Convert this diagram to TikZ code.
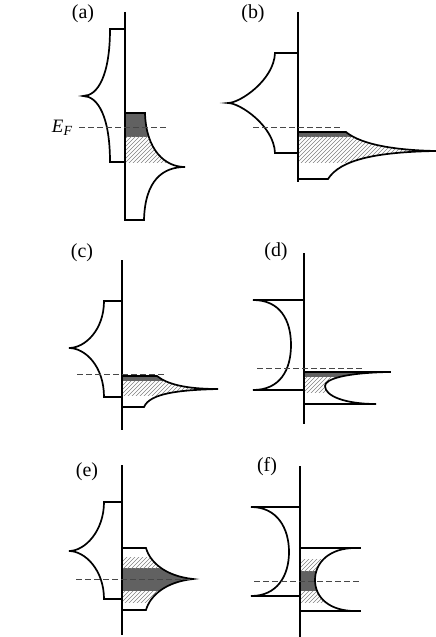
\documentclass[tikz,border=0pt]{standalone}
\usepackage{fontspec}
\setmainfont{Liberation Serif}
\tikzset{
  ln/.style={line width=1.7bp, line join=miter},
  axisln/.style={line width=1.7bp},
  efline/.style={dash pattern=on 5.5bp off 3.5bp, line width=0.9bp, black!72},
  darkfill/.style={fill=black!62},
  hatchln/.style={black!50, line width=0.55bp},
  lab/.style={font=\fontsize{20}{22}\selectfont, inner sep=0pt},
}
% panel (a)
\newcommand\pAL{(125,29) -- (110,29) .. controls (110,75) and (98,96) .. (83,96) .. controls (98,96) and (110,117) .. (110,162) -- (125,162)}
\newcommand\pAR{(125,113) -- (145,113) .. controls (146,150) and (165,167) .. (185,167) .. controls (163,167) and (145,180) .. (144,220) -- (125,220) -- cycle}
% panel (b)
\newcommand\pBL{(298,53) -- (275,53) .. controls (274,80) and (240,103) .. (228,103) .. controls (240,103) and (274,126) .. (275,153) -- (298,153)}
\newcommand\pBR{(298,132) -- (346,132) .. controls (358,142) and (385,150) .. (436,151) .. controls (375,152) and (340,160) .. (328,179) -- (298,179) -- cycle}
% panel (c)
\newcommand\pCL{(122,301) -- (104,301) .. controls (104,330) and (85,348) .. (69,348) .. controls (85,348) and (104,366) .. (104,397) -- (122,397)}
\newcommand\pCR{(122,376) -- (157,376) .. controls (167,384) and (185,389) .. (218,389) .. controls (180,390) and (150,393) .. (144,407) -- (122,407) -- cycle}
% panel (d)
\newcommand\pDL{(304,300) -- (253,300) .. controls (280,300) and (291,320) .. (291,345) .. controls (291,370) and (280,390) .. (253,390) -- (304,390)}
\newcommand\pDR{(304,372) -- (388,372) .. controls (345,373) and (325,379) .. (325,386) .. controls (325,396) and (345,404) .. (376,404) -- (304,404) -- cycle}
% panel (e)
\newcommand\pEL{(122,502) -- (104,502) .. controls (104,531) and (85,551) .. (69,551) .. controls (85,551) and (104,570) .. (104,599) -- (122,599)}
\newcommand\pER{(122,548) -- (146,548) .. controls (150,562) and (165,576) .. (193,579) .. controls (165,582) and (150,596) .. (146,610) -- (122,610) -- cycle}
% panel (f)
\newcommand\pFL{(300,507) -- (251,507) .. controls (277,507) and (289,528) .. (289,552) .. controls (289,576) and (277,596) .. (251,596) -- (300,596)}
\newcommand\pFR{(300,548) -- (355,548) .. controls (330,548) and (315,562) .. (315,580) .. controls (315,598) and (330,611) .. (355,611) -- (300,611) -- cycle}
\newcommand\darkband[3]{\begin{scope}\clip #1; \fill[darkfill] (0,#2) rectangle (436,#3);\end{scope}}
\newcommand\hatchband[3]{\begin{scope}\clip #1; \clip (0,#2) rectangle (436,#3);
  \foreach \k in {-640,-636,...,436} {\draw[hatchln] (\k,640) -- ++(640,-640);}\end{scope}}
\begin{document}
\begin{tikzpicture}[x=1bp,y=-1bp]
\useasboundingbox (0,0) rectangle (436,637);
% fills
\darkband{\pAR}{113}{137}
\hatchband{\pAR}{137}{163}
\darkband{\pBR}{132}{137}
\hatchband{\pBR}{137}{163}
\darkband{\pCR}{376}{381}
\hatchband{\pCR}{381}{395}
\darkband{\pDR}{372}{377}
\hatchband{\pDR}{377}{392}
\darkband{\pER}{568}{591}
\hatchband{\pER}{557}{568}
\hatchband{\pER}{591}{602}
\darkband{\pFR}{571}{591}
\hatchband{\pFR}{559}{571}
\hatchband{\pFR}{591}{602}
% outlines
\draw[ln] \pAL; \draw[ln] \pAR;
\draw[ln] \pBL; \draw[ln] \pBR;
\draw[ln] \pCL; \draw[ln] \pCR;
\draw[ln] \pDL; \draw[ln] \pDR;
\draw[ln] (304,372) -- (391,372);
\draw[ln] \pEL; \draw[ln] \pER;
\draw[ln] \pFL; \draw[ln] \pFR;
\draw[ln] (300,548) -- (361,548);
\draw[ln] (300,611) -- (361,611);
% axes
\coordinate (a1) at (125,12); \coordinate (a2) at (125,220);
\coordinate (b1) at (298,12); \coordinate (b2) at (298,182);
\coordinate (c1) at (122,260); \coordinate (c2) at (122,430);
\coordinate (d1) at (304,253); \coordinate (d2) at (304,424);
\coordinate (e1) at (122,465); \coordinate (e2) at (122,635);
\coordinate (f1) at (300,466); \coordinate (f2) at (300,637);
\draw[axisln] (a1) -- (a2);
\draw[axisln] (b1) -- (b2);
\draw[axisln] (c1) -- (c2);
\draw[axisln] (d1) -- (d2);
\draw[axisln] (e1) -- (e2);
\draw[axisln] (f1) -- (f2);
% Fermi levels
\coordinate (ea1) at (79,127); \coordinate (ea2) at (168,127);
\coordinate (eb1) at (253,127); \coordinate (eb2) at (341,127);
\coordinate (ec1) at (77,374); \coordinate (ec2) at (166,374);
\coordinate (ed1) at (257,368); \coordinate (ed2) at (365,368);
\coordinate (ee1) at (76,579); \coordinate (ee2) at (190,579);
\coordinate (ef1) at (254,581); \coordinate (ef2) at (361,581);
\draw[efline] (ea1) -- (ea2);
\draw[efline] (eb1) -- (eb2);
\draw[efline] (ec1) -- (ec2);
\draw[efline] (ed1) -- (ed2);
\draw[efline] (ee1) -- (ee2);
\draw[efline] (ef1) -- (ef2);
% labels
\node[lab] (la) at (83,14) {(a)};
\node[lab] (lb) at (253,14) {(b)};
\node[lab] (lc) at (82,253) {(c)};
\node[lab] (ld) at (276,252) {(d)};
\node[lab] (le) at (87,472) {(e)};
\node[lab] (lf) at (267,467) {(f)};
\node[inner sep=0pt, font=\fontsize{19}{20}\selectfont\itshape] (efl) at (62,128) {E\raisebox{-0.35ex}{\fontsize{14}{14}\selectfont F}};
\end{tikzpicture}
\end{document}
